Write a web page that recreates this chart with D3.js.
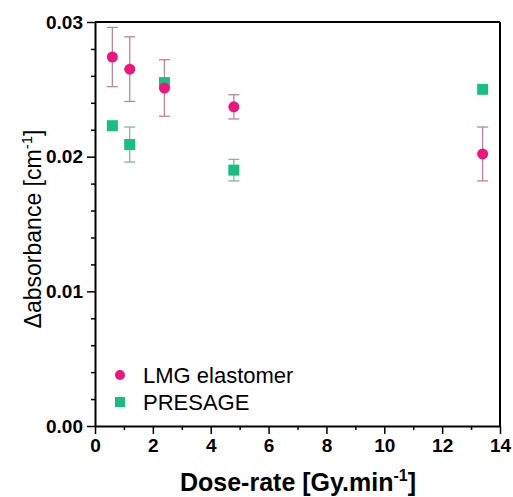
<!DOCTYPE html>
<html><head><meta charset="utf-8">
<script src="https://cdn.jsdelivr.net/npm/d3@7"></script>
<style>body{margin:0;background:#fff}svg{display:block}</style>
</head><body>
<script>
const doseRate = [0.6, 1.2, 2.4, 4.8, 13.4];
const lmgValues = [0.0274, 0.0265, 0.0251, 0.0237, 0.0202];
const lmgErrors = [0.0022, 0.0024, 0.0021, 0.0009, 0.0020];
const presageValues = [0.0223, 0.0209, 0.0255, 0.0190, 0.0250];
const presageErrors = [0.0000, 0.0013, 0.0000, 0.0008, 0.0000];
const xTicks = [0, 2, 4, 6, 8, 10, 12, 14];
const yTicks = [0.00, 0.01, 0.02, 0.03];
const seriesNames = ["LMG elastomer", "PRESAGE"];

const W = 513, H = 497;
const m = {left: 95, right: 13, top: 22, bottom: 71};
const svg = d3.select("body").append("svg").attr("width", W).attr("height", H);
const x = d3.scaleLinear().domain([0, 14]).range([m.left, W - m.right]);
const y = d3.scaleLinear().domain([0, 0.03]).range([H - m.bottom, m.top]);
const font = "Liberation Sans, Arial, sans-serif";

// frame top/right
svg.append("line").attr("x1", x(0)).attr("x2", x(14)).attr("y1", y(0.03)).attr("y2", y(0.03)).attr("stroke", "#000").attr("stroke-width", 2);
svg.append("line").attr("x1", x(14)).attr("x2", x(14)).attr("y1", y(0)).attr("y2", y(0.03)).attr("stroke", "#000").attr("stroke-width", 2);

// X axis
svg.append("g").attr("transform", `translate(0,${y(0)})`)
  .call(d3.axisBottom(x).tickValues(xTicks).tickFormat(d3.format("d")).tickSize(8).tickPadding(5).tickSizeOuter(0));
svg.append("g").attr("transform", `translate(0,${y(0)})`)
  .call(d3.axisBottom(x).tickValues(d3.range(1, 14, 2)).tickFormat("").tickSize(4))
  .call(g => g.select(".domain").remove());
// Y axis
svg.append("g").attr("transform", `translate(${x(0)},0)`)
  .call(d3.axisLeft(y).tickValues(yTicks).tickFormat(d3.format(".2f")).tickSize(8).tickPadding(4).tickSizeOuter(0));
svg.append("g").attr("transform", `translate(${x(0)},0)`)
  .call(d3.axisLeft(y).tickValues(d3.range(0.002, 0.03, 0.002).filter(v => Math.abs(v*100 - Math.round(v*100)) > 1e-6)).tickFormat("").tickSize(4))
  .call(g => g.select(".domain").remove());

svg.selectAll(".domain").attr("stroke-width", 2);
svg.selectAll(".tick line").attr("stroke-width", 1.5);
svg.selectAll(".tick text").attr("font-family", font).attr("font-size", 19).attr("font-weight", "bold").attr("fill", "#000");

// axis titles
svg.append("text").attr("x", 298).attr("y", 491).attr("text-anchor", "middle")
  .attr("font-family", font).attr("font-size", 25).attr("font-weight", "bold")
  .html('Dose-rate [Gy.min<tspan dy="-10" font-size="16">-1</tspan><tspan dy="10">]</tspan>');
svg.append("text").attr("transform", "translate(41,229) rotate(-90)").attr("text-anchor", "middle")
  .attr("font-family", font).attr("font-size", 23)
  .html('Δabsorbance [cm<tspan dy="-9" font-size="15">-1</tspan><tspan dy="9">]</tspan>');

const pink = "#f0157d", green = "#17c080";
const cap = 5.5;
function errorBars(vals, errs, color) {
  const g = svg.append("g").attr("stroke", color).attr("stroke-width", 1.3).attr("opacity", 0.75);
  doseRate.forEach((d, i) => {
    if (errs[i] <= 0) return;
    const cx = x(d), t = y(vals[i] + errs[i]), b = y(vals[i] - errs[i]);
    g.append("line").attr("x1", cx).attr("x2", cx).attr("y1", t).attr("y2", b);
    g.append("line").attr("x1", cx - cap).attr("x2", cx + cap).attr("y1", t).attr("y2", t);
    g.append("line").attr("x1", cx - cap).attr("x2", cx + cap).attr("y1", b).attr("y2", b);
  });
}
errorBars(presageValues, presageErrors, "#5e9c86");
errorBars(lmgValues, lmgErrors, "#a4607f");

svg.append("g").selectAll("rect").data(doseRate).join("rect")
  .attr("x", (d) => x(d) - 5.5).attr("y", (d, i) => y(presageValues[i]) - 5.5)
  .attr("width", 11).attr("height", 11).attr("fill", green);
svg.append("g").selectAll("circle").data(doseRate).join("circle")
  .attr("cx", d => x(d)).attr("cy", (d, i) => y(lmgValues[i])).attr("r", 5.5).attr("fill", pink);

// legend
svg.append("circle").attr("cx", 120).attr("cy", 375).attr("r", 5).attr("fill", pink);
svg.append("rect").attr("x", 115).attr("y", 397).attr("width", 10).attr("height", 10).attr("fill", green);
svg.append("text").attr("x", 143).attr("y", 383).attr("font-family", font).attr("font-size", 22).text(seriesNames[0]);
svg.append("text").attr("x", 143).attr("y", 410).attr("font-family", font).attr("font-size", 22).text(seriesNames[1]);
</script>
</body></html>
